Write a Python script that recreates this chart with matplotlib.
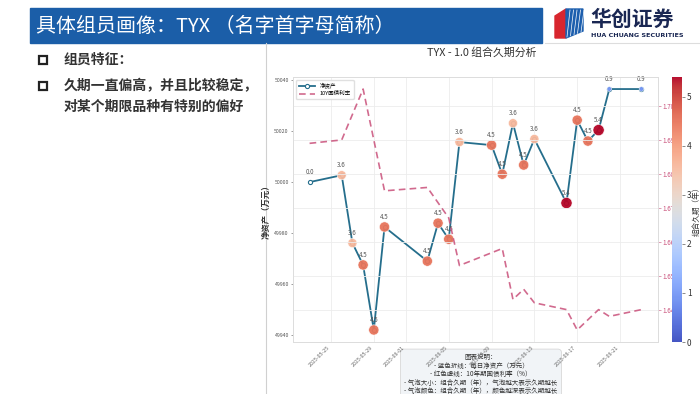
import numpy as np
import pandas as pd
import matplotlib
matplotlib.use('Agg')
import matplotlib.pyplot as plt
import matplotlib.dates as mdates
from matplotlib.ticker import MultipleLocator, FormatStrFormatter
from matplotlib.patches import Rectangle, Polygon

plt.rcParams['font.family'] = ['Noto Sans CJK SC', 'DejaVu Sans']
plt.rcParams['axes.unicode_minus'] = False

# data
dates = ['2025-05-23', '2025-05-26', '2025-05-27', '2025-05-28', '2025-05-29', '2025-05-30',
         '2025-06-03', '2025-06-04', '2025-06-05', '2025-06-06', '2025-06-09', '2025-06-10',
         '2025-06-11', '2025-06-12', '2025-06-13', '2025-06-16', '2025-06-17', '2025-06-18',
         '2025-06-19', '2025-06-20', '2025-06-23']
net_assets = [50000.0, 50002.7, 49976.1, 49967.5, 49942.0, 49982.4,
              49969.0, 49983.9, 49977.6, 50015.7, 50014.5, 50003.1,
              50023.1, 50006.7, 50016.9, 49991.8, 50024.3, 50016.1,
              50020.4, 50036.5, 50036.5]
durations = [0.0, 3.6, 3.6, 4.5, 4.5, 4.5,
             4.5, 4.5, 4.5, 3.6, 4.5, 4.5,
             3.6, 4.5, 3.6, 5.4, 4.5, 4.5,
             5.4, 0.9, 0.9]
# 10Y yield, only on the dates where the dashed line has a vertex
bond_yield = [1.689, 1.690, np.nan, 1.705, np.nan, 1.675,
              1.676, np.nan, 1.667, 1.653, np.nan, 1.658,
              1.643, 1.646, 1.642, 1.640, 1.634, np.nan,
              1.640, 1.638, 1.640]

df = pd.DataFrame({'date': pd.to_datetime(dates), 'nav': net_assets,
                   'dur': durations, 'yield': bond_yield})

W, H = 700, 394
fig = plt.figure(figsize=(W / 100, H / 100), dpi=100)
fig.patch.set_facecolor('white')


def px_axes(x0, y0, x1, y1):
    # pixel box (top-left origin) -> figure axes
    return fig.add_axes([x0 / W, 1 - y1 / H, (x1 - x0) / W, (y1 - y0) / H])


# ---- slide background ----
bg = fig.add_axes([0, 0, 1, 1])
bg.set_xlim(0, W)
bg.set_ylim(H, 0)
bg.axis('off')

bg.add_patch(Rectangle((30, 8), 512, 35, color='#1b5ea8'))
bg.text(36, 26, '具体组员画像：TYX （名字首字母简称）', color='white', fontsize=14.4,
        fontweight='light', va='center', ha='left')
bg.plot([545, 700], [43, 43], color='#dddddd', lw=0.8)

# logo
bg.add_patch(Polygon([(555, 16), (566, 9), (566, 38), (555, 38)], color='#d8262e'))
bg.add_patch(Polygon([(566, 9), (583, 9), (583, 31), (566, 38)], color='#1d5fae'))
for k in range(5):
    bg.plot([567 + k * 3.5, 570 + k * 3.5], [37 - k * 1.2, 10], color='white', lw=0.5)
bg.text(590, 19, '华创证券', fontsize=15, fontweight='bold', color='#1a2753', va='center')
bg.text(591, 35, 'HUA CHUANG SECURITIES', fontsize=4.6, fontweight='bold',
        color='#1a2753', va='center', family='DejaVu Sans')

# left bullets
for yy in (60, 86):
    bg.add_patch(Rectangle((39, yy - 4.5), 8, 8, fill=False, lw=1.6, edgecolor='#222222'))
bg.text(64, 60, '组员特征：', fontsize=10, fontweight='bold', color='#333333', va='center')
bg.text(64, 86, '久期一直偏高，并且比较稳定，', fontsize=10, fontweight='bold',
        color='#333333', va='center')
bg.text(64, 107, '对某个期限品种有特别的偏好', fontsize=10, fontweight='bold',
        color='#333333', va='center')

# chart picture frame
bg.plot([266, 266], [43, 394], color='#d0d0d0', lw=0.8)
bg.text(482, 52, 'TYX - 1.0 组合久期分析', fontsize=7.8, color='#333333',
        ha='center', va='center')

# ---- main chart ----
ax = px_axes(293, 77, 658, 342)
ax2 = ax.twinx()
cax = px_axes(672, 77, 682, 342)

line_c = '#256e8c'
red_c = '#c9507a'

l1, = ax.plot(df['date'], df['nav'], color=line_c, lw=1.3, marker='o', ms=3,
              mfc='white', mec=line_c, mew=0.8, zorder=3, label='净资产')
sc = ax.scatter(df['date'], df['nav'], s=df['dur'] * 12, c=df['dur'], cmap='coolwarm',
                vmin=0, vmax=max(durations), edgecolors='white', linewidths=0.4,
                alpha=0.95, zorder=4)
for d, v, du in zip(df['date'], df['nav'], df['dur']):
    ax.annotate(f'{du:.1f}', (d, v), xytext=(0, 4.5), textcoords='offset points',
                ha='center', va='bottom', fontsize=4.5, color='#555555', zorder=5)

valid = df.dropna(subset=['yield'])
l2, = ax2.plot(valid['date'], valid['yield'], color=red_c, lw=1.2, ls=(0, (4, 2.5)),
               alpha=0.85, label='10Y国债利率')

ax.yaxis.set_major_locator(MultipleLocator(20))
ax.yaxis.set_major_formatter(FormatStrFormatter('%d'))
ax.tick_params(axis='y', labelsize=3.8, colors='#555555', length=1.5, width=0.4, pad=1.5)
ax.set_ylabel('净资产（万元）', fontsize=6, fontweight='bold', color='#333333', labelpad=3)

ax.xaxis.set_major_locator(mdates.DayLocator(bymonthday=range(1, 32, 4)))
ax.xaxis.set_major_formatter(mdates.DateFormatter('%Y-%m-%d'))
ax.tick_params(axis='x', labelsize=3.8, colors='#666666', length=0, pad=2)
for lab in ax.get_xticklabels():
    lab.set_rotation(45)
    lab.set_ha('right')

ax2.yaxis.set_major_locator(MultipleLocator(0.01))
ax2.yaxis.set_major_formatter(FormatStrFormatter('%.2f'))
ax2.tick_params(axis='y', labelsize=4.5, colors=red_c, length=2, width=0.4, pad=1.5)

ax.grid(axis='x', color='#ececec', lw=0.6)
ax2.grid(axis='y', color='#ececec', lw=0.6)
ax.set_axisbelow(True)
for a in (ax, ax2):
    for sp in a.spines.values():
        sp.set_color('#dddddd')
        sp.set_linewidth(0.6)

ax2.legend(handles=[l1, l2], loc='upper left', fontsize=4, frameon=True,
           framealpha=0.9, edgecolor='#dddddd', handlelength=3, borderpad=0.5)

cb = fig.colorbar(sc, cax=cax)
cb.outline.set_visible(False)
cb.ax.tick_params(labelsize=6, length=2, width=0.4, colors='#333333', pad=1.5)
cb.set_label('组合久期（年）', fontsize=5.5, color='#333333', labelpad=0.5)

# explanation box
note = ('图表说明：\n'
        '- 蓝色折线：每日净资产（万元）\n'
        '- 红色虚线：10年期国债利率（%）\n'
        '- 气泡大小：组合久期（年），气泡越大表示久期越长\n'
        '- 气泡颜色：组合久期（年），颜色越深表示久期越长')
bg.text(481, 353, note, fontsize=4.7, color='#333333', ha='center', va='top',
        multialignment='center', linespacing=1.1,
        bbox=dict(boxstyle='round,pad=0.6', facecolor='#f1f4f7', edgecolor='#d8d8d8', lw=0.6))

fig.savefig('out.png', dpi=100)
